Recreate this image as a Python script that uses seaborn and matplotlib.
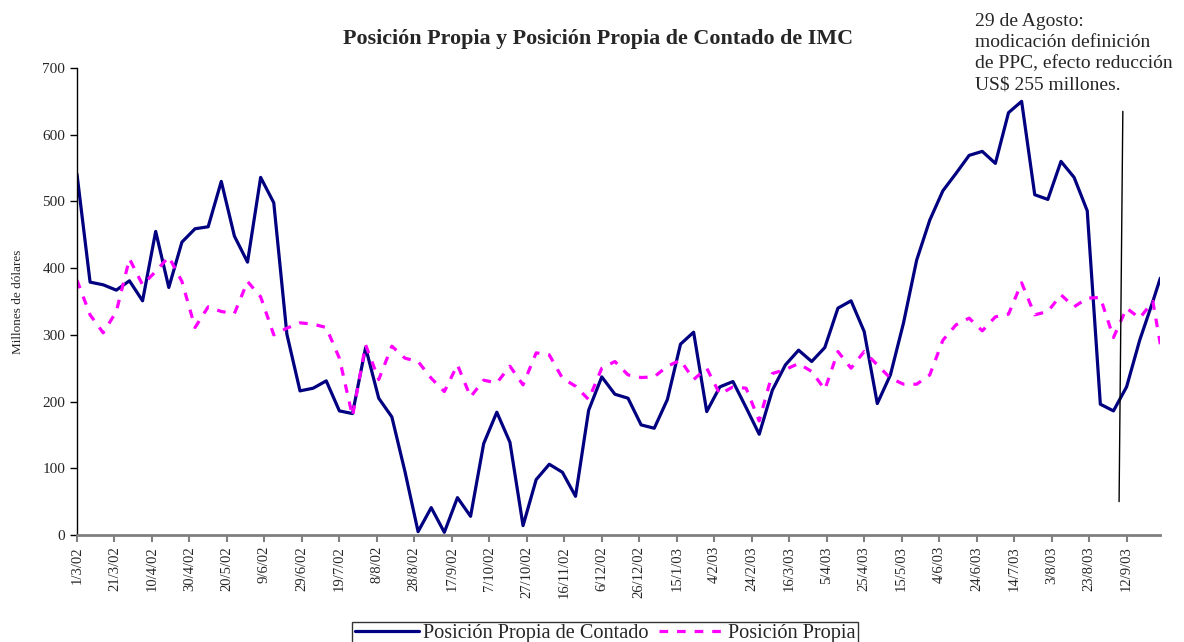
import pandas as pd
import numpy as np
import matplotlib
matplotlib.use('Agg')
import matplotlib.pyplot as plt
import seaborn as sns

# ── Data (weekly) ────────────────────────────────────────────────────────────
dates = list(pd.date_range('2002-03-01', periods=83, freq='7D')) + [pd.Timestamp('2003-09-30')]

contado = [541, 379, 375, 367, 381, 351, 455, 371, 439, 459,
           462, 530, 448, 409, 536, 498, 301, 216, 220, 231,
           186, 182, 281, 205, 177, 95, 5, 41, 4, 56,
           28, 137, 184, 139, 14, 83, 106, 94, 58, 187,
           237, 211, 205, 165, 160, 203, 286, 304, 185, 222,
           230, 191, 151, 217, 255, 277, 260, 281, 340, 351,
           305, 197, 240, 318, 412, 472, 516, 542, 569, 575,
           557, 633, 650, 510, 503, 560, 536, 486, 196, 186,
           222, 292, 350, 385]

propia = [382, 330, 303, 335, 414, 375, 395, 417, 380, 311,
          342, 335, 332, 380, 357, 300, 310, 318, 316, 311,
          265, 178, 285, 233, 283, 265, 260, 235, 215, 255,
          207, 232, 228, 253, 225, 273, 270, 235, 223, 203,
          250, 260, 240, 236, 237, 253, 262, 233, 250, 211,
          222, 220, 171, 242, 248, 257, 245, 218, 275, 250,
          275, 255, 235, 226, 226, 240, 292, 315, 325, 306,
          327, 331, 378, 330, 335, 360, 342, 355, 356, 296,
          340, 325, 350, 286]

df = pd.DataFrame({'fecha': dates, 'contado': contado, 'propia': propia})

tick_dates = pd.date_range('2002-03-01', '2003-09-12', freq='20D')
tick_labels = [f"{d.day}/{d.month}/{d:%y}" for d in tick_dates]

title = 'Posición Propia y Posición Propia de Contado de IMC'
note = ('29 de Agosto:\nmodicación definición\n'
        'de PPC, efecto reducción\nUS$ 255 millones.')
note_line_x = [pd.Timestamp('2003-09-10'), pd.Timestamp('2003-09-08')]
note_line_y = [635, 50]

# ── Style ────────────────────────────────────────────────────────────────────
sns.set_style('white')
plt.rcParams['font.family'] = ['Liberation Serif', 'DejaVu Serif']

fig = plt.figure(figsize=(11.84, 6.42), dpi=100)
ax = fig.add_axes([0.065, 0.1667, 0.915, 0.7274])

sns.lineplot(data=df, x='fecha', y='contado', ax=ax, color='#000080',
             linewidth=2.3, label='Posición Propia de Contado')
sns.lineplot(data=df, x='fecha', y='propia', ax=ax, color='#FF00FF',
             linewidth=2.3, linestyle=(0, (2.7, 2.8)), label='Posición Propia')

ax.plot(note_line_x, note_line_y, color='black', linewidth=1.0)

# ── Axes ─────────────────────────────────────────────────────────────────────
ax.set_xlim(pd.Timestamp('2002-03-01'), pd.Timestamp('2003-09-30'))
ax.set_ylim(0, 700)
ax.set_yticks(range(0, 701, 100))
ax.set_xticks(tick_dates)
ax.set_xticklabels(tick_labels, rotation=90, fontsize=10.5)
ax.tick_params(axis='y', labelsize=11, length=5, width=1, color='black',
               direction='out', left=True)
ax.tick_params(axis='x', length=5, width=1.5, color='#808080',
               direction='out', bottom=True, pad=3)
ax.set_xlabel('')
ax.set_ylabel('Millones de dólares', fontsize=9.5, labelpad=13)

for side in ['top', 'right']:
    ax.spines[side].set_visible(False)
ax.spines['left'].set_color('black')
ax.spines['left'].set_linewidth(1)
ax.spines['bottom'].set_color('#808080')
ax.spines['bottom'].set_linewidth(2)

fig.text(0.505, 0.94, title, ha='center', va='center',
         fontsize=15.8, fontweight='bold')
fig.text(975 / 1184, 1 - 13 / 642, note, ha='left', va='top',
         fontsize=14, linespacing=1.33)

ax.legend(loc='upper center', bbox_to_anchor=(0.511, 0.031),
          bbox_transform=fig.transFigure, ncol=2, frameon=True,
          fancybox=False, edgecolor='black', fontsize=14.6,
          handlelength=3.2, columnspacing=0.5, handletextpad=0.2,
          borderpad=0.1, borderaxespad=0)
ax.get_legend().get_frame().set_linewidth(1)

fig.savefig('out.png', dpi=100)
